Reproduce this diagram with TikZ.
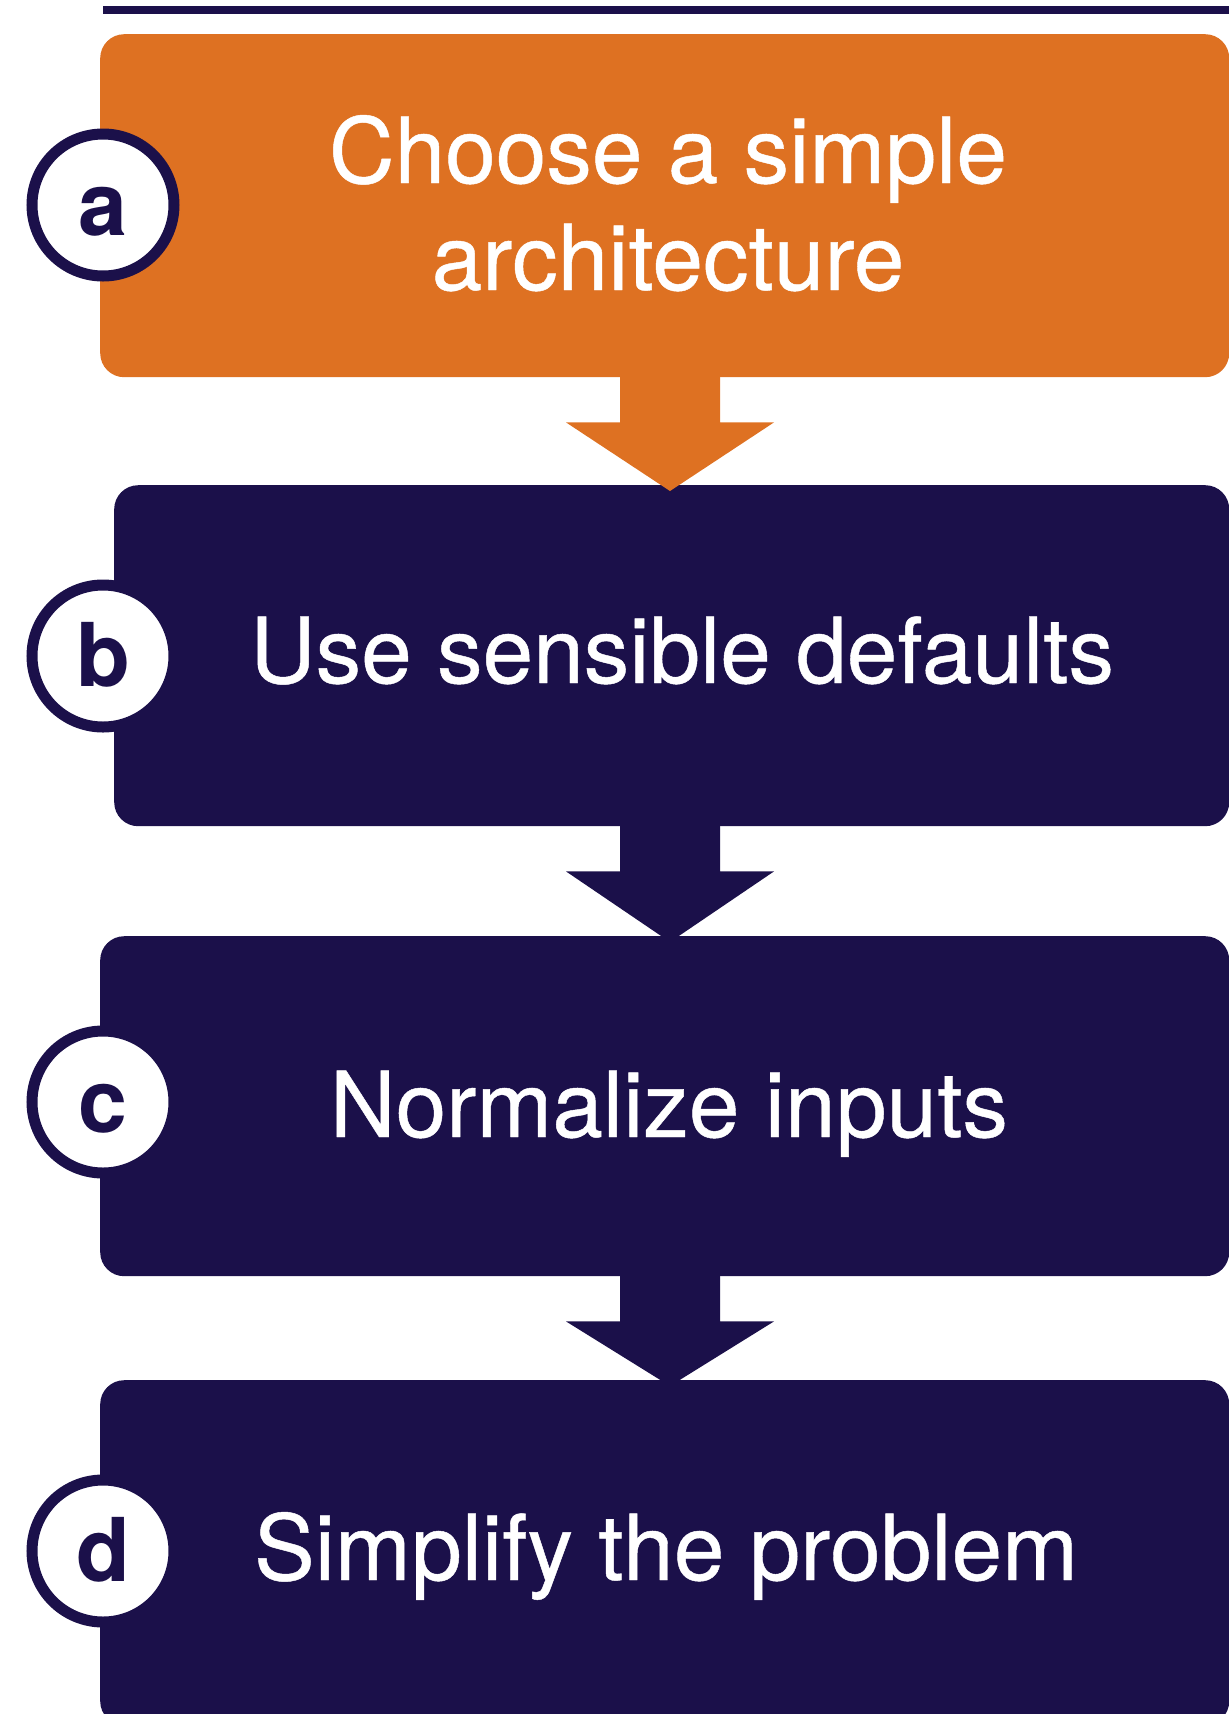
\documentclass[tikz,border=0pt]{standalone}
\usepackage{fontspec}
\setmainfont{TeX Gyre Heros}
\newfontfamily\stepfont[FakeBold=0.5]{TeX Gyre Heros}
\usetikzlibrary{calc}
\definecolor{accent}{RGB}{222,113,34}
\definecolor{navy}{RGB}{27,16,74}
\tikzset{
  stepbox/.style={rectangle, rounded corners=24pt, inner sep=0pt, anchor=north west, draw=none},
  badge/.style={circle, fill=white, draw=navy, line width=11pt, minimum size=142pt, inner sep=0pt,
    text=navy, font=\fontsize{88}{88}\selectfont\bfseries, text height=60pt, text depth=0pt},
  steptext/.style={text=white, inner sep=0pt, anchor=base, font=\stepfont\fontsize{91}{107}\selectfont},
  flowarrow/.style={to path={let \p1=(\tikztostart), \p2=(\tikztotarget) in
    (\x1-50pt,\y1+1pt) -- (\x1-50pt,\y1-45pt) -- (\x1-104pt,\y1-45pt) -- (\x2,\y2-6pt)
    -- (\x1+104pt,\y1-45pt) -- (\x1+50pt,\y1-45pt) -- (\x1+50pt,\y1+1pt)}}
}
\begin{document}
\begin{tikzpicture}[x=1pt,y=-1pt]
\useasboundingbox (0,0) rectangle (1229,1714);
\clip (0,0) rectangle (1229,1714);
% top rule
\fill[navy] (103,6) rectangle (1229,14);
% boxes
\node[stepbox, fill=accent, minimum width=1129pt, minimum height=343pt] (A) at (100,34) {};
\node[stepbox, fill=navy, minimum width=1115pt, minimum height=341pt] (B) at (114,485) {};
\node[stepbox, fill=navy, minimum width=1129pt, minimum height=340pt] (C) at (100,936) {};
\node[stepbox, fill=navy, minimum width=1129pt, minimum height=345pt] (D) at (100,1380) {};
% arrow axis
\coordinate (ax) at (670,0);
\fill[accent] (A.south -| ax) to[flowarrow] (B.north -| ax);
\fill[navy] (B.south -| ax) to[flowarrow] (C.north -| ax);
\fill[navy] (C.south -| ax) to[flowarrow] (D.north -| ax);
% texts
\node[steptext] (ta1) at (668,183) {Choose a simple};
\node[steptext] (ta2) at (668,290) {architecture};
\node[steptext] (tb) at (682,683) {Use sensible defaults};
\node[steptext] (tc) at (669,1137) {Normalize inputs};
\node[steptext] (td) at (666,1580) {Simplify the problem};
% badges
\node[badge] (ca) at (103,205) {a};
\node[badge] (cb) at (103,656) {b};
\node[badge] (cc) at (103,1102) {c};
\node[badge] (cd) at (103,1551) {d};
\end{tikzpicture}
\end{document}
